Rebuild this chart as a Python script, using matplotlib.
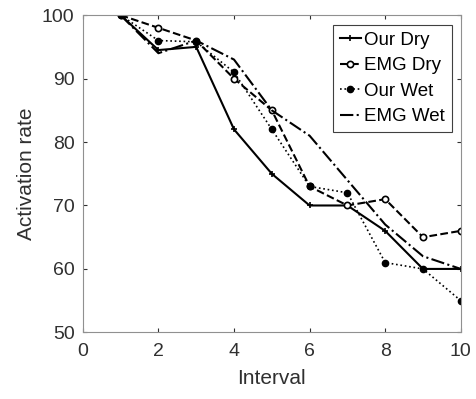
import matplotlib
matplotlib.use("Agg")
import matplotlib.pyplot as plt

intervals = [1, 2, 3, 4, 5, 6, 7, 8, 9, 10]
our_dry = [100, 94.5, 95, 82, 75, 70, 70, 66, 60, 60]
emg_dry = [100, 98, 96, 90, 85, 73, 70, 71, 65, 66]
our_wet = [100, 96, 95.8, 91, 82, 73, 72, 61, 60, 55]
emg_wet = [100, 94, 96, 93, 85, 81, 74, 67, 62, 60]

plt.rcParams['font.family'] = ['Liberation Sans', 'DejaVu Sans']

fig = plt.figure(figsize=(4.76, 3.99), dpi=100)
ax = fig.add_axes([0.174, 0.167, 0.794, 0.795])

ax.plot(intervals, our_dry, '-', color='black', lw=1.5, marker='+', ms=5, mew=1.2, label='Our Dry')
ax.plot(intervals, emg_dry, '--', color='black', lw=1.5, marker='o', ms=4.5, mfc='white', mew=1.2, label='EMG Dry')
ax.plot(intervals, our_wet, ':', color='black', lw=1.2, marker='o', ms=4.5, mfc='black', label='Our Wet')
ax.plot(intervals, emg_wet, '-.', color='black', lw=1.5, label='EMG Wet')

ax.set_xlim(0, 10)
ax.set_ylim(50, 100)
ax.set_xticks([0, 2, 4, 6, 8, 10])
ax.set_yticks([50, 60, 70, 80, 90, 100])
ax.tick_params(direction='in', top=True, right=True, labelsize=14, colors='#303030', length=3)
ax.tick_params(axis='x', pad=8)
ax.tick_params(axis='y', pad=6)
for s in ax.spines.values():
    s.set_color('#909090')
    s.set_linewidth(0.8)
ax.set_xlabel('Interval', fontsize=15, color='#303030', labelpad=6)
ax.set_ylabel('Activation rate', fontsize=15, color='#303030', labelpad=4)

leg = ax.legend(loc='upper right', fontsize=13.5, handlelength=1.1, handletextpad=0.2,
                borderpad=0.35, labelspacing=0.45, fancybox=False, framealpha=1,
                borderaxespad=0, bbox_to_anchor=(0.976, 0.969))
leg.get_frame().set_edgecolor('#404040')
leg.get_frame().set_linewidth(0.8)

fig.savefig('out.png', dpi=100)
